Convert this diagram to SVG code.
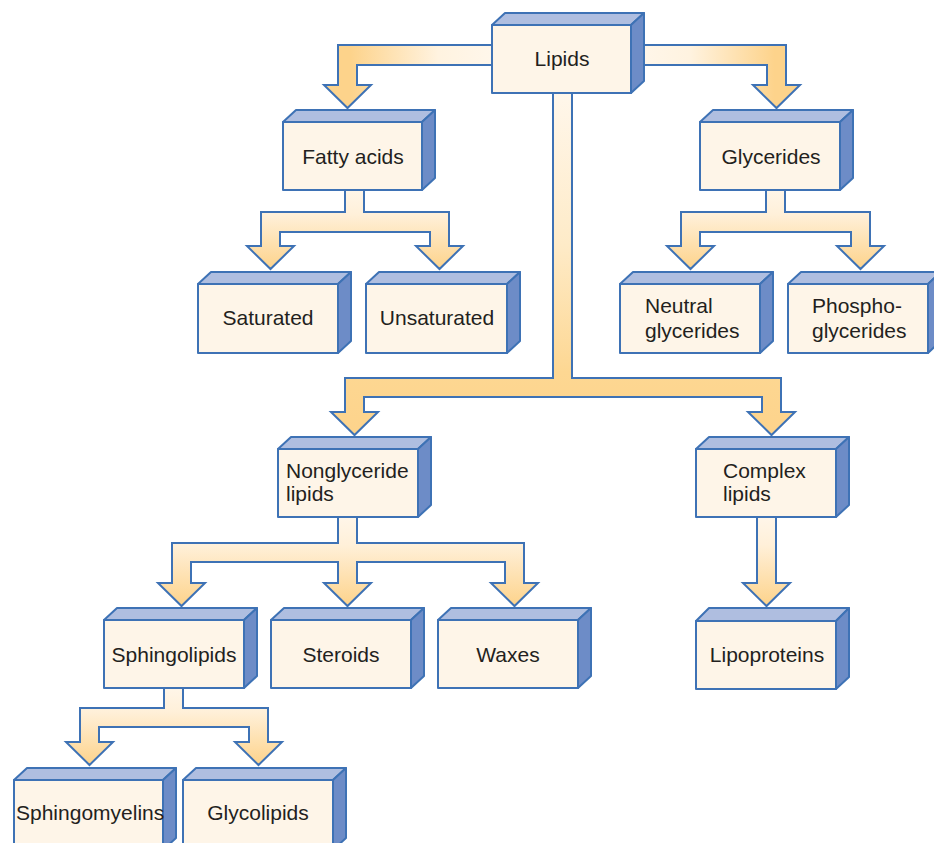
<svg xmlns="http://www.w3.org/2000/svg" width="934" height="843" viewBox="0 0 934 843">
<defs>
<linearGradient id="gV" x1="0" y1="0" x2="0" y2="1">
<stop offset="0" stop-color="#fff7ec"/>
<stop offset="0.35" stop-color="#fff0d9"/>
<stop offset="1" stop-color="#fdd38b"/>
</linearGradient>
<linearGradient id="gL" x1="1" y1="0" x2="0" y2="0">
<stop offset="0" stop-color="#fff7ec"/>
<stop offset="0.35" stop-color="#fff3e0"/>
<stop offset="0.85" stop-color="#fdd38b"/>
</linearGradient>
<linearGradient id="gR" x1="0" y1="0" x2="1" y2="0">
<stop offset="0" stop-color="#fff7ec"/>
<stop offset="0.35" stop-color="#fff3e0"/>
<stop offset="0.85" stop-color="#fdd38b"/>
</linearGradient>
<linearGradient id="gT" x1="0" y1="0" x2="0" y2="1">
<stop offset="0" stop-color="#fff7ec"/>
<stop offset="0.45" stop-color="#feebc8"/>
<stop offset="0.82" stop-color="#fdd792"/>
<stop offset="1" stop-color="#fdd38b"/>
</linearGradient>
</defs>
<style>
.arr{stroke:#3e72b5;stroke-width:2;stroke-linejoin:miter}
.front{fill:#fef5e8;stroke:#3e72b5;stroke-width:2;stroke-linejoin:round}
.top{fill:#afbee0;stroke:#3e72b5;stroke-width:2;stroke-linejoin:round}
.side{fill:#6d8cc7;stroke:#3e72b5;stroke-width:2;stroke-linejoin:round}
text{font-family:"Liberation Sans",Arial,sans-serif;font-size:21px;fill:#231f20}
.c{text-anchor:middle}
</style>
<rect width="934" height="843" fill="#ffffff"/>
<g id="connectors">
<polygon class="arr" fill="url(#gL)" points="500,45 338,45 338,85 324,85 347.5,108 371,85 357,85 357,65 500,65"/>
<polygon class="arr" fill="url(#gR)" points="630,45 786,45 786,85 800,85 776.5,108 753,85 767,85 767,65 630,65"/>
<polygon class="arr" fill="url(#gT)" points="553,88 553,378 345,378 345,412 331,412 354.5,435 378,412 364,412 364,397 762,397 762,412 748,412 771.5,435 795,412 781,412 781,378 572,378 572,88"/>
<polygon class="arr" fill="url(#gV)" points="345,185 345,212 261,212 261,246 247,246 270.5,269 294,246 280,246 280,232 430,232 430,246 416,246 439.5,269 463,246 449,246 449,212 364,212 364,185"/>
<polygon class="arr" fill="url(#gV)" points="766,185 766,212 681,212 681,246 667,246 690.5,269 714,246 700,246 700,232 851,232 851,246 837,246 860.5,269 884,246 870,246 870,212 785,212 785,185"/>
<polygon class="arr" fill="url(#gV)" points="338,512 338,543 172,543 172,583 158,583 181.5,606 205,583 191,583 191,562 338,562 338,583 324,583 347.5,606 371,583 357,583 357,562 505,562 505,583 491,583 514.5,606 538,583 524,583 524,543 357,543 357,512"/>
<polygon class="arr" fill="url(#gV)" points="164,683 164,708 80,708 80,742 66,742 89.5,765 113,742 99,742 99,727 249,727 249,742 235,742 258.5,765 282,742 268,742 268,708 183,708 183,683"/>
<polygon class="arr" fill="url(#gV)" points="757,512 757,583 743,583 766.5,606 790,583 776,583 776,512"/>
</g>
<g id="lipids">
<polygon class="top" points="492,25 505,13 644,13 631,25"/>
<polygon class="side" points="631,25 644,13 644,81 631,93"/>
<rect class="front" x="492" y="25" width="139" height="68"/>
<text class="c" x="562" y="66">Lipids</text>
</g>
<g id="fatty-acids">
<polygon class="top" points="283,122 296,110 435,110 422,122"/>
<polygon class="side" points="422,122 435,110 435,178 422,190"/>
<rect class="front" x="283" y="122" width="139" height="68"/>
<text class="c" x="353" y="164">Fatty acids</text>
</g>
<g id="glycerides">
<polygon class="top" points="700,122 713,110 853,110 840,122"/>
<polygon class="side" points="840,122 853,110 853,178 840,190"/>
<rect class="front" x="700" y="122" width="140" height="68"/>
<text class="c" x="771" y="164">Glycerides</text>
</g>
<g id="saturated">
<polygon class="top" points="198,284 211,272 351,272 338,284"/>
<polygon class="side" points="338,284 351,272 351,341 338,353"/>
<rect class="front" x="198" y="284" width="140" height="69"/>
<text class="c" x="268" y="325">Saturated</text>
</g>
<g id="unsaturated">
<polygon class="top" points="366,284 379,272 520,272 507,284"/>
<polygon class="side" points="507,284 520,272 520,341 507,353"/>
<rect class="front" x="366" y="284" width="141" height="69"/>
<text class="c" x="437" y="325">Unsaturated</text>
</g>
<g id="neutral-glycerides">
<polygon class="top" points="620,284 633,272 773,272 760,284"/>
<polygon class="side" points="760,284 773,272 773,341 760,353"/>
<rect class="front" x="620" y="284" width="140" height="69"/>
<text x="645" y="313">Neutral</text>
<text x="645" y="338">glycerides</text>
</g>
<g id="phosphoglycerides">
<polygon class="top" points="788,284 801,272 941,272 928,284"/>
<polygon class="side" points="928,284 941,272 941,341 928,353"/>
<rect class="front" x="788" y="284" width="140" height="69"/>
<text x="812" y="313">Phospho-</text>
<text x="812" y="338">glycerides</text>
</g>
<g id="nonglyceride-lipids">
<polygon class="top" points="278,449 291,437 431,437 418,449"/>
<polygon class="side" points="418,449 431,437 431,505 418,517"/>
<rect class="front" x="278" y="449" width="140" height="68"/>
<text x="286" y="478">Nonglyceride</text>
<text x="286" y="501">lipids</text>
</g>
<g id="complex-lipids">
<polygon class="top" points="696,449 709,437 849,437 836,449"/>
<polygon class="side" points="836,449 849,437 849,505 836,517"/>
<rect class="front" x="696" y="449" width="140" height="68"/>
<text x="723" y="478">Complex</text>
<text x="723" y="501">lipids</text>
</g>
<g id="sphingolipids">
<polygon class="top" points="104,620 117,608 257,608 244,620"/>
<polygon class="side" points="244,620 257,608 257,676 244,688"/>
<rect class="front" x="104" y="620" width="140" height="68"/>
<text class="c" x="174" y="662">Sphingolipids</text>
</g>
<g id="steroids">
<polygon class="top" points="271,620 284,608 424,608 411,620"/>
<polygon class="side" points="411,620 424,608 424,676 411,688"/>
<rect class="front" x="271" y="620" width="140" height="68"/>
<text class="c" x="341" y="662">Steroids</text>
</g>
<g id="waxes">
<polygon class="top" points="438,620 451,608 591,608 578,620"/>
<polygon class="side" points="578,620 591,608 591,676 578,688"/>
<rect class="front" x="438" y="620" width="140" height="68"/>
<text class="c" x="508" y="662">Waxes</text>
</g>
<g id="lipoproteins">
<polygon class="top" points="696,621 709,608 849,608 836,621"/>
<polygon class="side" points="836,621 849,608 849,677 836,689"/>
<rect class="front" x="696" y="621" width="140" height="68"/>
<text class="c" x="767" y="662">Lipoproteins</text>
</g>
<g id="sphingomyelins">
<polygon class="top" points="14,780 27,768 176,768 163,780"/>
<polygon class="side" points="163,780 176,768 176,838 163,850"/>
<rect class="front" x="14" y="780" width="149" height="70"/>
<text x="16" y="820">Sphingomyelins</text>
</g>
<g id="glycolipids">
<polygon class="top" points="183,780 196,768 346,768 333,780"/>
<polygon class="side" points="333,780 346,768 346,838 333,850"/>
<rect class="front" x="183" y="780" width="150" height="70"/>
<text class="c" x="258" y="820">Glycolipids</text>
</g>
</svg>
